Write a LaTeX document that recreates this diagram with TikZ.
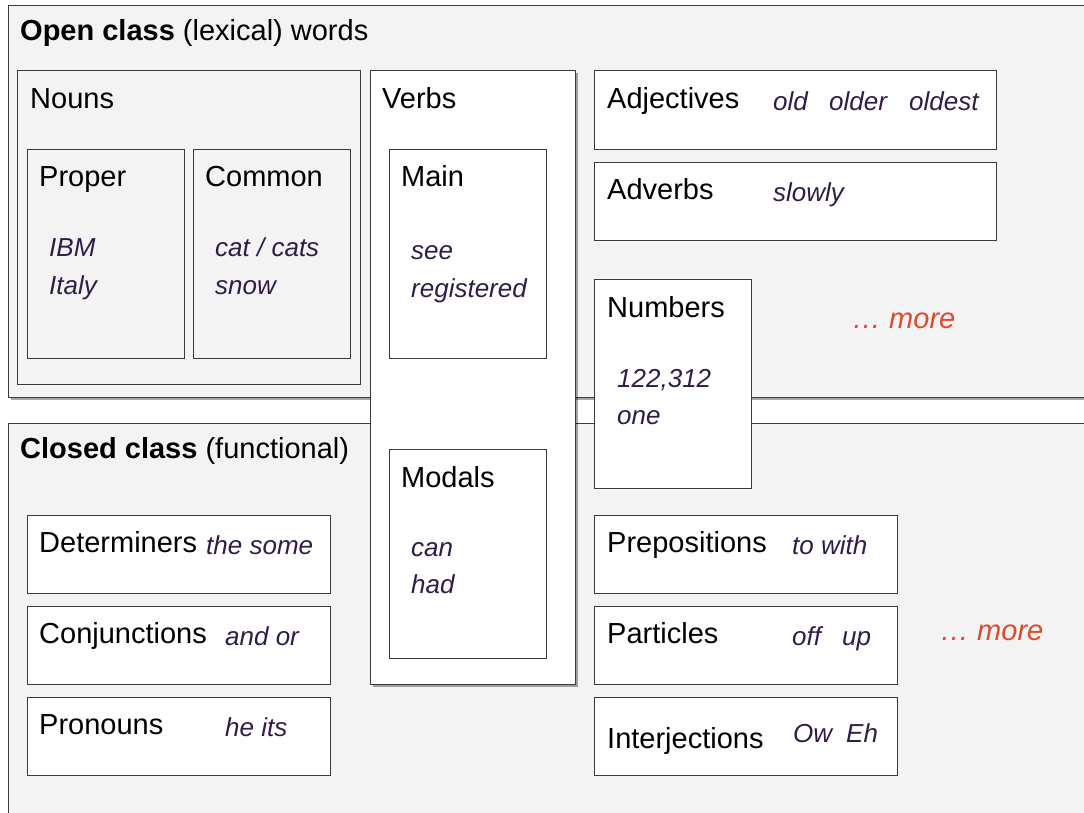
\documentclass[tikz,border=0pt]{standalone}
\usepackage{fontspec}
\setmainfont{Liberation Sans}
\usetikzlibrary{shadows}
\definecolor{bggray}{HTML}{F3F3F3}
\definecolor{edge}{HTML}{3A3A3A}
\definecolor{ex}{HTML}{2F1C4A}
\definecolor{moreclr}{HTML}{E04A2C}
\tikzset{
 panel/.style={draw=edge, line width=1.3pt, rectangle, anchor=north west, inner sep=0pt},
 wbox/.style={panel, fill=white},
 gbox/.style={panel, fill=bggray},
 shad/.style={drop shadow={shadow xshift=2.5pt, shadow yshift=-2.5pt, opacity=0.35, fill=black}},
 lbl/.style={anchor=base west, inner sep=0pt, font=\fontsize{29}{34}\selectfont, text=black},
 exm/.style={anchor=base west, inner sep=0pt, font=\fontsize{26}{31}\selectfont\itshape, text=ex},
 mor/.style={anchor=base west, inner sep=0pt, font=\fontsize{29}{34}\selectfont\itshape, text=moreclr},
}
\begin{document}
\begin{tikzpicture}[x=1pt,y=-1pt]
\useasboundingbox (0,0) rectangle (1084,813);
\fill[white] (0,0) rectangle (1084,813);
\clip (0,0) rectangle (1084,813);
% outer panels
\node[gbox, shad, minimum width=1100pt, minimum height=392pt] (open) at (8,5) {};
\node[gbox, shad, minimum width=1100pt, minimum height=420pt] (closed) at (8,423) {};
\node[lbl] (opent) at (20,41) {\textbf{Open class} (lexical) words};
\node[lbl] (closedt) at (20,458) {\textbf{Closed class} (functional)};
% nouns
\node[gbox, minimum width=343pt, minimum height=314pt] (nouns) at (17,70) {};
\node[lbl] (nounst) at (30,109) {Nouns};
\node[gbox, minimum width=157pt, minimum height=209pt] (proper) at (27,149) {};
\node[lbl] (propert) at (39,187) {Proper};
\node[exm] (ibm) at (49,256) {IBM};
\node[exm] (italy) at (49,294) {Italy};
\node[gbox, minimum width=157pt, minimum height=209pt] (common) at (193,149) {};
\node[lbl] (commont) at (205,187) {Common};
\node[exm] (cat) at (215,256) {cat / cats};
\node[exm] (snow) at (215,294) {snow};
% verbs
\node[wbox, shad, minimum width=205pt, minimum height=614pt] (verbs) at (370,70) {};
\node[lbl] (verbst) at (382,109) {Verbs};
\node[wbox, minimum width=157pt, minimum height=209pt] (main) at (389,149) {};
\node[lbl] (maint) at (401,187) {Main};
\node[exm] (see) at (411,259) {see};
\node[exm] (reg) at (411,297) {registered};
\node[wbox, minimum width=157pt, minimum height=209pt] (modals) at (389,449) {};
\node[lbl] (modalst) at (401,487) {Modals};
\node[exm] (can) at (411,556) {can};
\node[exm] (had) at (411,593) {had};
% adjectives, adverbs
\node[wbox, minimum width=402pt, minimum height=79pt] (adj) at (594,70) {};
\node[lbl] (adjt) at (607,109) {Adjectives};
\node[exm] (old) at (773,111) {old};
\node[exm] (older) at (829,111) {older};
\node[exm] (oldest) at (909,111) {oldest};
\node[wbox, minimum width=402pt, minimum height=78pt] (adv) at (594,162) {};
\node[lbl] (advt) at (607,200) {Adverbs};
\node[exm] (slowly) at (773,202) {slowly};
% numbers
\node[wbox, minimum width=157pt, minimum height=209pt] (num) at (594,279) {};
\node[lbl] (numt) at (607,317) {Numbers};
\node[exm] (n1) at (617,387) {122,312};
\node[exm] (n2) at (617,424) {one};
\node[mor] (more1) at (852,328) {… more};
% closed left
\node[wbox, minimum width=303pt, minimum height=78pt] (det) at (27,515) {};
\node[lbl] (dett) at (39,552) {Determiners};
\node[exm] (dete) at (206,554) {the some};
\node[wbox, minimum width=303pt, minimum height=78pt] (conj) at (27,606) {};
\node[lbl] (conjt) at (39,643) {Conjunctions};
\node[exm] (conje) at (225,645) {and or};
\node[wbox, minimum width=303pt, minimum height=78pt] (pron) at (27,697) {};
\node[lbl] (pront) at (39,734) {Pronouns};
\node[exm] (prone) at (225,736) {he its};
% closed right
\node[wbox, minimum width=303pt, minimum height=78pt] (prep) at (594,515) {};
\node[lbl] (prept) at (607,552) {Prepositions};
\node[exm] (prepe) at (792,554) {to with};
\node[wbox, minimum width=303pt, minimum height=78pt] (part) at (594,606) {};
\node[lbl] (partt) at (607,643) {Particles};
\node[exm] (off) at (792,645) {off};
\node[exm] (up) at (842,645) {up};
\node[wbox, minimum width=303pt, minimum height=78pt] (intj) at (594,697) {};
\node[lbl] (intjt) at (607,748) {Interjections};
\node[exm] (ow) at (793,742) {Ow};
\node[exm] (eh) at (846,742) {Eh};
\node[mor] (more2) at (940,640) {… more};
\end{tikzpicture}
\end{document}
